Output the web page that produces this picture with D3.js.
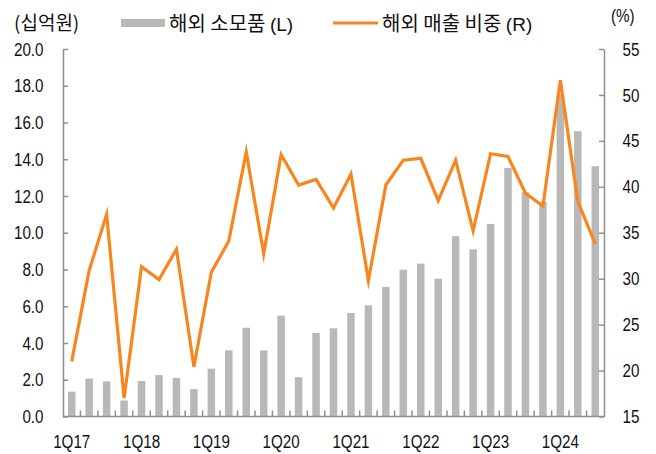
<!DOCTYPE html>
<html><head><meta charset="utf-8">
<script src="https://cdn.jsdelivr.net/npm/d3@7"></script>
<style>
html,body{margin:0;padding:0;background:#fff;}
svg text{font-family:"Noto Sans CJK KR","Liberation Sans",sans-serif;fill:#111;}
</style></head>
<body>
<svg id="chart" width="656" height="454"></svg>
<script>
const quarters = ["1Q17","2Q17","3Q17","4Q17","1Q18","2Q18","3Q18","4Q18","1Q19","2Q19","3Q19","4Q19",
  "1Q20","2Q20","3Q20","4Q20","1Q21","2Q21","3Q21","4Q21","1Q22","2Q22","3Q22","4Q22",
  "1Q23","2Q23","3Q23","4Q23","1Q24","2Q24","3Q24"];
const overseasConsumables = [1.35,2.07,1.91,0.87,1.93,2.25,2.1,1.49,2.6,3.6,4.83,3.6,
  5.49,2.14,4.54,4.8,5.63,6.05,7.05,7.99,8.32,7.5,9.81,9.1,10.48,13.53,12.2,11.68,17.5,15.53,13.62];
const overseasShare = [21.0,30.9,37.0,17.0,31.3,29.9,33.2,20.4,30.7,34.1,43.8,32.7,
  43.5,40.2,40.8,37.7,41.4,29.8,40.2,42.9,43.1,38.5,42.9,35.2,43.6,43.3,39.3,37.9,51.6,38.4,33.8];
const xTickLabels = ["1Q17","1Q18","1Q19","1Q20","1Q21","1Q22","1Q23","1Q24"];
const leftTicks = [0,2,4,6,8,10,12,14,16,18,20];
const rightTicks = [15,20,25,30,35,40,45,50,55];
const barName = ["해외 소모품 ", "(L)"];
const lineName = ["해외 매출 비중 ", "(R)"];

const svg = d3.select("#chart");
const L = 63, R = 604, T = 49, B = 416.5;
const axisColor = "#8f8f8f", barColor = "#b8b8b9", lineColor = "#f7861f";
const latin = '"Liberation Sans",Arial,sans-serif';
const SX = 0.8, FS = 19;

const x = d3.scaleBand().domain(quarters).range([L, R]).paddingInner(0).paddingOuter(0);
const yL = d3.scaleLinear().domain([0, 20]).range([B, T]);
const yR = d3.scaleLinear().domain([15, 55]).range([B, T]);
const bw = 7.5;

// bars
svg.append("g").selectAll("rect").data(quarters).join("rect")
  .attr("x", d => x(d) + x.bandwidth()/2 - bw/2)
  .attr("y", (d,i) => yL(overseasConsumables[i]))
  .attr("width", bw)
  .attr("height", (d,i) => B - yL(overseasConsumables[i]))
  .attr("fill", barColor);

// line
const line = d3.line().x((d,i) => x(quarters[i]) + x.bandwidth()/2).y(d => yR(d));
svg.append("path").datum(overseasShare).attr("d", line)
  .attr("fill","none").attr("stroke", lineColor).attr("stroke-width", 3.2)
  .attr("stroke-linejoin","miter").attr("stroke-miterlimit", 6);

function narrowText(sel, dx) {
  sel.attr("font-size", FS).style("font-family", latin)
    .attr("x", 0).attr("transform", `translate(${dx},0) scale(${SX},1)`);
}

// left axis
const gl = svg.append("g").attr("transform", `translate(${L},0)`)
  .call(d3.axisLeft(yL).tickValues(leftTicks).tickFormat(d3.format(".1f")).tickSize(-5).tickSizeOuter(0).tickPadding(19));
gl.select(".domain").attr("stroke", axisColor).attr("stroke-width", 1.5);
gl.selectAll(".tick line").attr("stroke", axisColor).attr("stroke-width", 1.5);
narrowText(gl.selectAll(".tick text"), -19.5);

// right axis
const gr = svg.append("g").attr("transform", `translate(${R},0)`)
  .call(d3.axisRight(yR).tickValues(rightTicks).tickSize(-5).tickSizeOuter(0).tickPadding(18));
gr.select(".domain").attr("stroke", axisColor).attr("stroke-width", 1.5);
gr.selectAll(".tick line").attr("stroke", axisColor).attr("stroke-width", 1.5);
narrowText(gr.selectAll(".tick text"), 18.5);

// bottom axis
const gb = svg.append("g").attr("transform", `translate(0,${B})`);
gb.append("line").attr("x1", L).attr("x2", R).attr("y1",0).attr("y2",0)
  .attr("stroke", axisColor).attr("stroke-width", 1.5);
gb.selectAll("line.tk").data(quarters.slice(1)).join("line").attr("class","tk")
  .attr("x1", d => x(d)).attr("x2", d => x(d)).attr("y1", 0).attr("y2", -6)
  .attr("stroke", axisColor).attr("stroke-width", 1.5);
gb.selectAll("text").data(xTickLabels).join("text")
  .attr("x", 0).attr("y", 31.5)
  .attr("transform", d => `translate(${x(d) + x.bandwidth()/2},0) scale(${SX},1)`)
  .attr("text-anchor","middle").attr("font-size", FS).style("font-family", latin).text(d => d);

// unit labels
svg.append("text").attr("x", 14).attr("y", 30).attr("font-size", 19).text("(십억원)");
svg.append("text").attr("x", 0).attr("y", 22)
  .attr("transform", `translate(611,0) scale(${SX},1)`)
  .attr("font-size", 19).style("font-family", latin).text("(%)");

// legend
svg.append("rect").attr("x", 121).attr("y", 19).attr("width", 44).attr("height", 8).attr("fill", barColor);
const t1 = svg.append("text").attr("x", 169).attr("y", 31).attr("font-size", 20);
t1.append("tspan").text(barName[0]);
t1.append("tspan").style("font-family", latin).attr("font-size", 19).text(barName[1]);
svg.append("line").attr("x1", 333).attr("x2", 378).attr("y1", 23).attr("y2", 23)
  .attr("stroke", lineColor).attr("stroke-width", 3.2);
const t2 = svg.append("text").attr("x", 382).attr("y", 31).attr("font-size", 20);
t2.append("tspan").text(lineName[0]);
t2.append("tspan").style("font-family", latin).attr("font-size", 19).text(lineName[1]);
</script>
</body></html>
